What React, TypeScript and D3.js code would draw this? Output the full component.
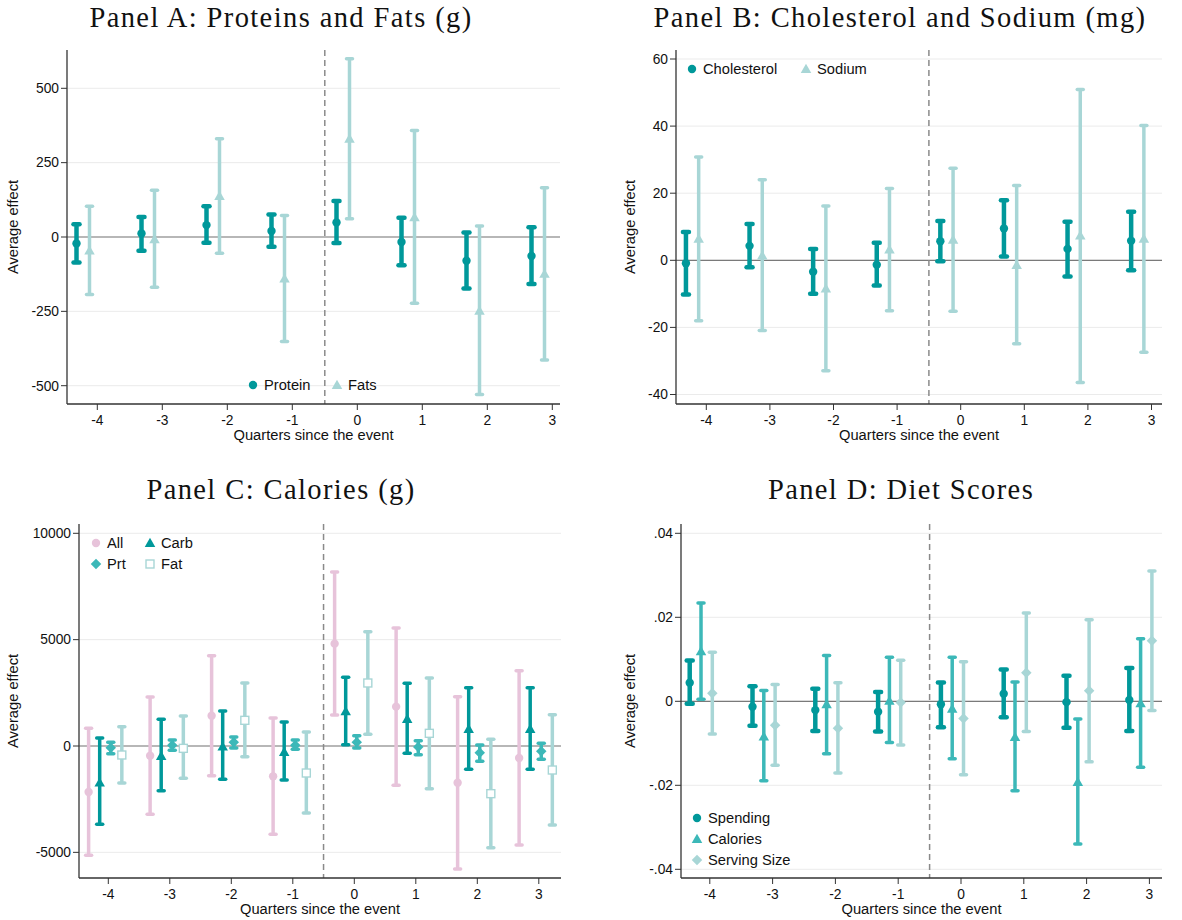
import React from 'react';
import * as d3 from 'd3';

const quarters = [-4, -3, -2, -1, 0, 1, 2, 3];
const quarterLabels = ['-4', '-3', '-2', '-1', '0', '1', '2', '3'];

// Panel A: Proteins and Fats (g)
const proteinEst = [-22, 12, 40, 20, 49, -17, -80, -64];
const proteinLo = [-86, -46, -19, -33, -20, -95, -173, -158];
const proteinHi = [43, 67, 103, 76, 121, 65, 15, 33];
const fatsEst = [-46, -8, 138, -140, 330, 66, -248, -124];
const fatsLo = [-193, -169, -55, -351, 61, -223, -530, -414];
const fatsHi = [103, 157, 330, 72, 599, 358, 37, 166];
const ticksA = [-500, -250, 0, 250, 500];
const tickLabelsA = ['-500', '-250', '0', '250', '500'];

// Panel B: Cholesterol and Sodium (mg)
const cholEst = [-0.9, 4.3, -3.4, -1.3, 5.7, 9.5, 3.4, 5.8];
const cholLo = [-10.2, -2.1, -10.0, -7.5, -0.3, 1.1, -4.8, -3.0];
const cholHi = [8.4, 10.8, 3.4, 5.2, 11.7, 17.9, 11.5, 14.5];
const sodiumEst = [6.4, 1.4, -8.4, 3.2, 6.1, -1.4, 7.4, 6.4];
const sodiumLo = [-18.0, -20.9, -32.9, -15.0, -15.2, -24.9, -36.4, -27.4];
const sodiumHi = [30.8, 24.0, 16.2, 21.4, 27.4, 22.3, 50.9, 40.2];
const ticksB = [-40, -20, 0, 20, 40, 60];
const tickLabelsB = ['-40', '-20', '0', '20', '40', '60'];

// Panel C: Calories (g)
const allEst = [-2163, -455, 1426, -1426, 4812, 1850, -1724, -564];
const allLo = [-5141, -3213, -1395, -4154, 1458, -1850, -5784, -4655];
const allHi = [831, 2304, 4248, 1317, 8182, 5549, 2320, 3542];
const carbEst = [-1724, -470, -31, -282, 1630, 1270, 799, 799];
const carbLo = [-3683, -2100, -1567, -1599, 63, -345, -1097, -1097];
const carbHi = [376, 1254, 1646, 1129, 3229, 2947, 2743, 2743];
const prtEst = [-78, 31, 172, 31, 172, -47, -313, -251];
const prtLo = [-360, -204, -94, -157, -94, -408, -721, -627];
const prtHi = [172, 282, 423, 282, 486, 251, 47, 125];
const fatEst = [-423, -110, 1207, -1270, 2962, 596, -2241, -1129];
const fatLo = [-1740, -1520, -502, -3150, 549, -2006, -4781, -3715];
const fatHi = [909, 1411, 2962, 658, 5376, 3197, 313, 1473];
const ticksC = [-5000, 0, 5000, 10000];
const tickLabelsC = ['-5000', '0', '5000', '10000'];

// Panel D: Diet Scores
const spendEst = [0.0044, -0.0013, -0.0021, -0.0025, -0.0007, 0.0018, -0.0002, 0.0003];
const spendLo = [-0.0006, -0.0058, -0.0071, -0.0072, -0.0062, -0.0038, -0.0063, -0.0071];
const spendHi = [0.0097, 0.0036, 0.003, 0.0022, 0.0045, 0.0076, 0.0061, 0.0079];
const calEst = [0.0119, -0.0084, -0.0007, 0.0001, -0.0018, -0.0085, -0.0192, -0.0005];
const calLo = [0.0005, -0.0189, -0.0125, -0.0098, -0.0137, -0.0213, -0.034, -0.0157];
const calHi = [0.0234, 0.0026, 0.0109, 0.0105, 0.0105, 0.0046, -0.0042, 0.0149];
const servEst = [0.0019, -0.0057, -0.0064, -0.0003, -0.0041, 0.0068, 0.0025, 0.0144];
const servLo = [-0.0078, -0.0152, -0.0171, -0.0104, -0.0175, -0.0072, -0.0144, -0.0022];
const servHi = [0.0117, 0.004, 0.0044, 0.0098, 0.0094, 0.021, 0.0194, 0.031];
const ticksD = [-0.04, -0.02, 0, 0.02, 0.04];
const tickLabelsD = ['-.04', '-.02', '0', '.02', '.04'];

const DARK = '#00989a';
const MID = '#3cb8b8';
const LIGHT = '#a8d6d6';
const PINK = '#e7c3da';

const SANS = '"Liberation Sans", Arial, sans-serif';
const SERIF = '"Liberation Serif", "Times New Roman", serif';

type Marker = 'circle' | 'triangle' | 'diamond' | 'square';

interface Series {
  name: string;
  color: string;
  offset: number;
  marker: Marker;
  width: number;
  est: number[];
  lo: number[];
  hi: number[];
}

interface LegendItem {
  name: string;
  color: string;
  marker: Marker;
  x: number;
  y: number;
}

interface PanelProps {
  title: string;
  titleX: number;
  titleY: number;
  xRange: [number, number];
  xDomain: [number, number];
  yRange: [number, number];
  yDomain: [number, number];
  yTicks: number[];
  yTickLabels: string[];
  yLabelX: number;
  series: Series[];
  legend: LegendItem[];
}

function MarkerShape({ marker, x, y, color, size }: { marker: Marker; x: number; y: number; color: string; size: number }) {
  if (marker === 'circle') return <circle cx={x} cy={y} r={size} fill={color} />;
  if (marker === 'triangle') {
    const s = size * 1.25;
    return <path d={`M${x},${y - s}L${x + s},${y + s * 0.75}L${x - s},${y + s * 0.75}Z`} fill={color} />;
  }
  if (marker === 'diamond') {
    const s = size * 1.25;
    return <path d={`M${x},${y - s}L${x + s},${y}L${x},${y + s}L${x - s},${y}Z`} fill={color} />;
  }
  const s = size * 0.95;
  return <rect x={x - s} y={y - s} width={2 * s} height={2 * s} fill="#fff" stroke={color} strokeWidth={1.4} />;
}

function Panel(p: PanelProps) {
  const x = d3.scaleLinear().domain(p.xDomain).range(p.xRange);
  const y = d3.scaleLinear().domain(p.yDomain).range(p.yRange);
  const [x0, x1] = p.xRange;
  const [yb, yt] = p.yRange;
  const capHalf = 3;
  return (
    <g>
      <text x={p.titleX} y={p.titleY} textAnchor="middle" fontFamily={SERIF} fontSize={28.5} letterSpacing={1.4} fill="#111">
        {p.title}
      </text>
      {p.yTicks.map((t) => (
        <line key={'g' + t} x1={x0} x2={x1} y1={y(t)} y2={y(t)} stroke="#ebebeb" strokeWidth={1} />
      ))}
      <line x1={x0} x2={x1} y1={y(0)} y2={y(0)} stroke="#7a7a7a" strokeWidth={1.2} />
      <line x1={x(-0.5)} x2={x(-0.5)} y1={yt} y2={yb} stroke="#8a8a8a" strokeWidth={1.5} strokeDasharray="6,4" />
      {p.series.map((s) => (
        <g key={s.name}>
          {quarters.map((q, i) => {
            const cx = x(q + s.offset);
            return (
              <g key={q}>
                <line x1={cx} x2={cx} y1={y(s.lo[i])} y2={y(s.hi[i])} stroke={s.color} strokeWidth={s.width} />
                <line x1={cx - capHalf} x2={cx + capHalf} y1={y(s.lo[i])} y2={y(s.lo[i])} stroke={s.color} strokeWidth={s.width} strokeLinecap="round" />
                <line x1={cx - capHalf} x2={cx + capHalf} y1={y(s.hi[i])} y2={y(s.hi[i])} stroke={s.color} strokeWidth={s.width} strokeLinecap="round" />
                <MarkerShape marker={s.marker} x={cx} y={y(s.est[i])} color={s.color} size={4.2} />
              </g>
            );
          })}
        </g>
      ))}
      <line x1={x0} x2={x0} y1={yt} y2={yb} stroke="#333" strokeWidth={1.3} />
      <line x1={x0} x2={x1} y1={yb} y2={yb} stroke="#333" strokeWidth={1.3} />
      {p.yTicks.map((t, i) => (
        <g key={'t' + t}>
          <line x1={x0 - 6} x2={x0} y1={y(t)} y2={y(t)} stroke="#333" strokeWidth={1} />
          <text x={x0 - 8} y={y(t)} dy="0.35em" textAnchor="end" fontFamily={SANS} fontSize={13.8} fill="#111">
            {p.yTickLabels[i]}
          </text>
        </g>
      ))}
      {quarters.map((q, i) => (
        <g key={'x' + q}>
          <line x1={x(q)} x2={x(q)} y1={yb} y2={yb + 6} stroke="#333" strokeWidth={1} />
          <text x={x(q)} y={yb + 21} textAnchor="middle" fontFamily={SANS} fontSize={13.8} fill="#111">
            {quarterLabels[i]}
          </text>
        </g>
      ))}
      <text x={(x0 + x1) / 2} y={yb + 36} textAnchor="middle" fontFamily={SANS} fontSize={14.7} fill="#111">
        Quarters since the event
      </text>
      <text
        transform={`translate(${p.yLabelX},${(yt + yb) / 2}) rotate(-90)`}
        textAnchor="middle"
        dy="0.35em"
        fontFamily={SANS}
        fontSize={14.7}
        fill="#111"
      >
        Average effect
      </text>
      {p.legend.map((l) => (
        <g key={'l' + l.name}>
          <MarkerShape marker={l.marker} x={l.x} y={l.y} color={l.color} size={4.2} />
          <text x={l.x + 11} y={l.y} dy="0.35em" fontFamily={SANS} fontSize={14.7} fill="#111">
            {l.name}
          </text>
        </g>
      ))}
    </g>
  );
}

export default function App() {
  const panels: PanelProps[] = [
    {
      title: 'Panel A: Proteins and Fats (g)',
      titleX: 281,
      titleY: 27,
      xRange: [67, 560],
      xDomain: [(67 - 357.3) / 65, (560 - 357.3) / 65],
      yRange: [404, 50],
      yDomain: [(237 - 404) / 0.2974, (237 - 50) / 0.2974],
      yTicks: ticksA,
      yTickLabels: tickLabelsA,
      yLabelX: 13,
      series: [
        { name: 'Protein', color: DARK, offset: -0.32, marker: 'circle', width: 4.5, est: proteinEst, lo: proteinLo, hi: proteinHi },
        { name: 'Fats', color: LIGHT, offset: -0.12, marker: 'triangle', width: 3.5, est: fatsEst, lo: fatsLo, hi: fatsHi },
      ],
      legend: [
        { name: 'Protein', color: DARK, marker: 'circle', x: 253, y: 385 },
        { name: 'Fats', color: LIGHT, marker: 'triangle', x: 337, y: 385 },
      ],
    },
    {
      title: 'Panel B: Cholesterol and Sodium (mg)',
      titleX: 900,
      titleY: 27,
      xRange: [676, 1162],
      xDomain: [(676 - 960.7) / 63.6, (1162 - 960.7) / 63.6],
      yRange: [404, 50],
      yDomain: [(260.3 - 404) / 3.355, (260.3 - 50) / 3.355],
      yTicks: ticksB,
      yTickLabels: tickLabelsB,
      yLabelX: 630,
      series: [
        { name: 'Cholesterol', color: DARK, offset: -0.32, marker: 'circle', width: 4.5, est: cholEst, lo: cholLo, hi: cholHi },
        { name: 'Sodium', color: LIGHT, offset: -0.12, marker: 'triangle', width: 3.5, est: sodiumEst, lo: sodiumLo, hi: sodiumHi },
      ],
      legend: [
        { name: 'Cholesterol', color: DARK, marker: 'circle', x: 692, y: 69 },
        { name: 'Sodium', color: LIGHT, marker: 'triangle', x: 806, y: 69 },
      ],
    },
    {
      title: 'Panel C: Calories (g)',
      titleX: 281,
      titleY: 499,
      xRange: [79, 561],
      xDomain: [(79 - 354.3) / 61.5, (561 - 354.3) / 61.5],
      yRange: [878, 524],
      yDomain: [(746 - 878) / 0.02127, (746 - 524) / 0.02127],
      yTicks: ticksC,
      yTickLabels: tickLabelsC,
      yLabelX: 13,
      series: [
        { name: 'All', color: PINK, offset: -0.32, marker: 'circle', width: 3.5, est: allEst, lo: allLo, hi: allHi },
        { name: 'Carb', color: DARK, offset: -0.14, marker: 'triangle', width: 3.5, est: carbEst, lo: carbLo, hi: carbHi },
        { name: 'Prt', color: MID, offset: 0.04, marker: 'diamond', width: 3.5, est: prtEst, lo: prtLo, hi: prtHi },
        { name: 'Fat', color: LIGHT, offset: 0.22, marker: 'square', width: 3.5, est: fatEst, lo: fatLo, hi: fatHi },
      ],
      legend: [
        { name: 'All', color: PINK, marker: 'circle', x: 96, y: 543 },
        { name: 'Carb', color: DARK, marker: 'triangle', x: 150, y: 543 },
        { name: 'Prt', color: MID, marker: 'diamond', x: 96, y: 564 },
        { name: 'Fat', color: LIGHT, marker: 'square', x: 150, y: 564 },
      ],
    },
    {
      title: 'Panel D: Diet Scores',
      titleX: 901,
      titleY: 499,
      xRange: [681, 1162],
      xDomain: [(681 - 961) / 62.8, (1162 - 961) / 62.8],
      yRange: [878, 524],
      yDomain: [(701.3 - 878) / 4200, (701.3 - 524) / 4200],
      yTicks: ticksD,
      yTickLabels: tickLabelsD,
      yLabelX: 630,
      series: [
        { name: 'Spending', color: DARK, offset: -0.32, marker: 'circle', width: 4.5, est: spendEst, lo: spendLo, hi: spendHi },
        { name: 'Calories', color: MID, offset: -0.14, marker: 'triangle', width: 3.5, est: calEst, lo: calLo, hi: calHi },
        { name: 'Serving Size', color: LIGHT, offset: 0.04, marker: 'diamond', width: 3.5, est: servEst, lo: servLo, hi: servHi },
      ],
      legend: [
        { name: 'Spending', color: DARK, marker: 'circle', x: 697, y: 818 },
        { name: 'Calories', color: MID, marker: 'triangle', x: 697, y: 839 },
        { name: 'Serving Size', color: LIGHT, marker: 'diamond', x: 697, y: 860 },
      ],
    },
  ];
  return (
    <svg width={1182} height={920} style={{ display: 'block', position: 'absolute', left: 0, top: 0, background: '#fff' }}>
      <rect x={0} y={0} width={1182} height={920} fill="#fff" />
      {panels.map((p) => (
        <Panel key={p.title} {...p} />
      ))}
    </svg>
  );
}
